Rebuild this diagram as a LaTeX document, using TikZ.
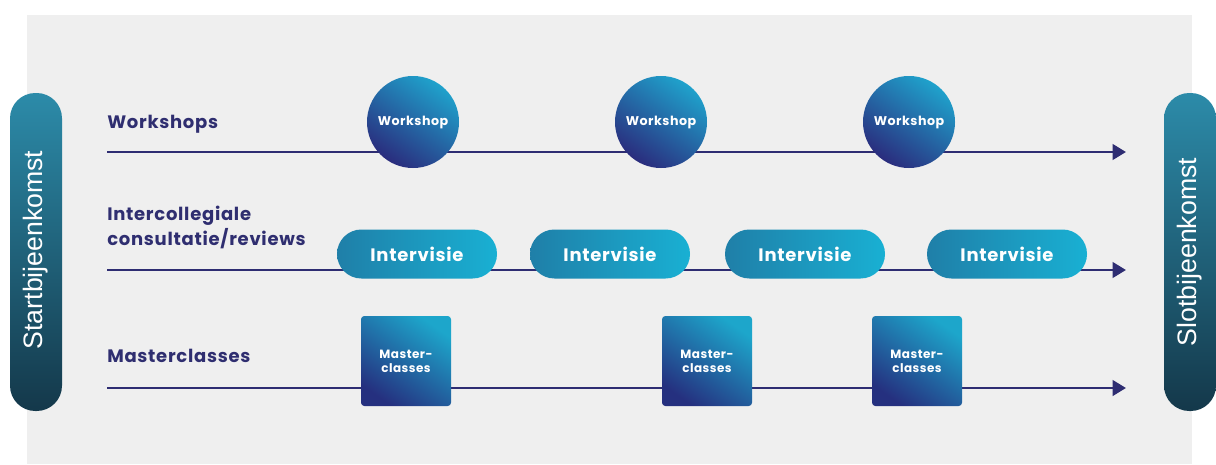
\documentclass[tikz,border=0pt]{standalone}
\usepackage{fontspec}
\usepackage{graphicx}
\setmainfont{Liberation Sans}
\newfontfamily\labfont{Poppins}[LetterSpace=4]
\usetikzlibrary{arrows.meta}
\definecolor{panel}{HTML}{EFEFEF}
\definecolor{navy}{HTML}{2E2D72}
\definecolor{labnavy}{HTML}{2F2E70}
\definecolor{cirlight}{HTML}{1FA2CC}
\definecolor{cirdark}{HTML}{2A2C7D}
\definecolor{pillleft}{HTML}{1F7FA8}
\definecolor{pillright}{HTML}{19B0D3}
\definecolor{boxlight}{HTML}{1DA6CB}
\definecolor{boxdark}{HTML}{25307F}
\definecolor{sidetop}{HTML}{2C8BA9}
\definecolor{sidebottom}{HTML}{14384A}
\begin{document}
\begin{tikzpicture}[x=0.75pt,y=-0.75pt,
  sidepill/.style={minimum width=39pt, minimum height=238.5pt, inner sep=0pt,
    rounded corners=19pt, top color=sidetop, bottom color=sidebottom,
    text=white, font=\fontsize{20}{24}\selectfont},
  timeline/.style={navy, line width=2.2pt, -{Triangle[length=10pt,width=11.5pt]}},
  wscircle/.style={circle, minimum size=69pt, inner sep=0pt,
    top color=cirlight, bottom color=cirdark, shading angle=-35,
    text=white, font=\labfont\bfseries\fontsize{9.5}{11}\selectfont},
  ivpill/.style={rectangle, minimum width=120pt, minimum height=36.75pt, inner sep=0pt,
    rounded corners=18.3pt, left color=pillleft, right color=pillright,
    text=white, font=\labfont\bfseries\fontsize{13.5}{15}\selectfont},
  mcbox/.style={rectangle, minimum size=67.5pt, inner sep=0pt, rounded corners=2.5pt,
    top color=boxlight, bottom color=boxdark, shading angle=-35,
    text=white, align=center, font=\labfont\bfseries\fontsize{9}{10.5}\selectfont},
  rowlabel/.style={text=labnavy, inner sep=0pt, align=left,
    font=\labfont\bfseries\fontsize{13.5}{18.75}\selectfont}
]
\useasboundingbox (0,0) rectangle (1216,464);
\fill[white] (0,0) rectangle (1216,464);
\fill[panel] (27,15) rectangle (1192,464);

% side bars
\node[sidepill] (start) at (36,252) {\raisebox{3pt}{\rotatebox{90}{Startbijeenkomst}}};
\node[sidepill] (end) at (1190,252) {\rotatebox{90}{Slotbijeenkomst}};

% row labels
\node[rowlabel, anchor=base west] (lw) at (107,128) {Workshops};
\node[rowlabel, anchor=base west] (li1) at (107,220) {Intercollegiale};
\node[rowlabel, anchor=base west] (li2) at (107,245) {consultatie/reviews};
\node[rowlabel, anchor=base west] (lm) at (107,362) {Masterclasses};

% timelines
\coordinate (wa) at (107,152); \coordinate (wb) at (1126,152);
\coordinate (ia) at (107,270); \coordinate (ib) at (1126,270);
\coordinate (ma) at (107,388); \coordinate (mb) at (1126,388);
\draw[timeline] (wa) -- (wb);
\draw[timeline] (ia) -- (ib);
\draw[timeline] (ma) -- (mb);

% workshops
\node[wscircle] (w1) at (413,122) {Workshop};
\node[wscircle] (w2) at (661,122) {Workshop};
\node[wscircle] (w3) at (909,122) {Workshop};

% intervisie
\node[ivpill] (i1) at (417,254) {Intervisie};
\node[ivpill] (i2) at (610,254) {Intervisie};
\node[ivpill] (i3) at (805,254) {Intervisie};
\node[ivpill] (i4) at (1007,254) {Intervisie};

% masterclasses
\node[mcbox] (m1) at (406,361) {Master-\\classes};
\node[mcbox] (m2) at (707,361) {Master-\\classes};
\node[mcbox] (m3) at (917,361) {Master-\\classes};
\end{tikzpicture}
\end{document}
